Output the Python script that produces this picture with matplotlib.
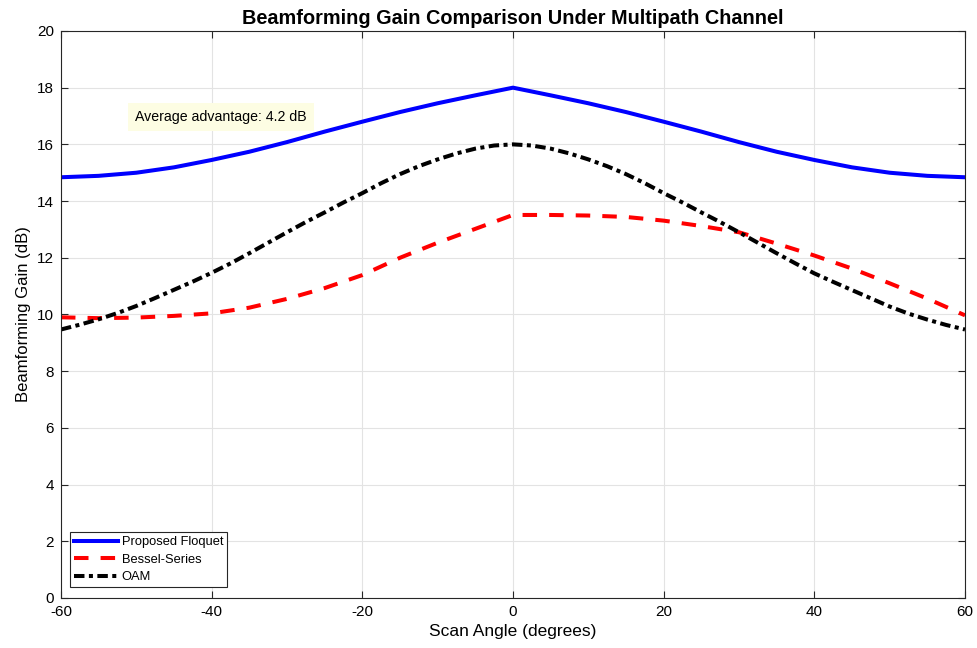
import numpy as np
import matplotlib
matplotlib.use("Agg")
import matplotlib.pyplot as plt

# ---------- Dados (ganho em dB por ângulo de varredura) ----------
angulos = [-60, -55, -50, -45, -40, -35, -30, -25, -20, -15, -10, -5, 0,
           5, 10, 15, 20, 25, 30, 35, 40, 45, 50, 55, 60]

floquet = [14.84, 14.89, 15.0, 15.19, 15.45, 15.74, 16.08, 16.45, 16.8, 17.14, 17.45, 17.73, 18.0,
           17.73, 17.45, 17.14, 16.8, 16.45, 16.08, 15.74, 15.45, 15.19, 15.0, 14.89, 14.84]

bessel = [9.9, 9.87, 9.89, 9.95, 10.04, 10.24, 10.55, 10.93, 11.39, 12.0, 12.53, 13.02, 13.51,
          13.51, 13.49, 13.44, 13.31, 13.12, 12.9, 12.5, 12.08, 11.62, 11.1, 10.56, 9.97]

# OAM com passo de 2,5 graus (curva mais arredondada no pico)
angulos_oam = [-60, -57.5, -55, -52.5, -50, -47.5, -45, -42.5, -40, -37.5, -35, -32.5, -30,
               -27.5, -25, -22.5, -20, -17.5, -15, -12.5, -10, -7.5, -5, -2.5, 0,
               2.5, 5, 7.5, 10, 12.5, 15, 17.5, 20, 22.5, 25, 27.5, 30,
               32.5, 35, 37.5, 40, 42.5, 45, 47.5, 50, 52.5, 55, 57.5, 60]
oam = [9.47, 9.64, 9.83, 10.05, 10.3, 10.58, 10.87, 11.16, 11.47, 11.8, 12.16, 12.53, 12.9,
       13.26, 13.6, 13.95, 14.28, 14.63, 14.95, 15.23, 15.47, 15.68, 15.85, 15.96, 16.0,
       15.96, 15.85, 15.68, 15.47, 15.23, 14.95, 14.63, 14.28, 13.95, 13.6, 13.26, 12.9,
       12.53, 12.16, 11.8, 11.45, 11.15, 10.86, 10.57, 10.28, 10.03, 9.82, 9.63, 9.47]

nomes = ["Proposed Floquet", "Bessel-Series", "OAM"]
texto_vantagem = "Average advantage: 4.2 dB"

# ---------- Estilo ----------
plt.rcParams["font.family"] = ["Liberation Sans", "DejaVu Sans"]
plt.rcParams["axes.unicode_minus"] = False

fig = plt.figure(figsize=(9.77, 6.48), dpi=100)
ax = fig.add_axes([0.0624, 0.0772, 0.9253, 0.875])

ax.plot(angulos, floquet, color="#0000ff", lw=2.9, label=nomes[0], solid_joinstyle="round")
ax.plot(angulos, bessel, color="#ff0000", lw=2.9, label=nomes[1],
        dashes=(3.6, 3.0), dash_capstyle="butt")
ax.plot(angulos_oam, oam, color="black", lw=2.9, label=nomes[2],
        dashes=(2.6, 1.1, 1.0, 1.1), dash_capstyle="butt")

ax.set_xlim(-60, 60)
ax.set_ylim(0, 20)
ax.set_xticks(np.arange(-60, 61, 20))
ax.set_yticks(np.arange(0, 21, 2))

ax.grid(True, color="#e3e3e3", lw=0.8)
ax.set_axisbelow(True)
for s in ax.spines.values():
    s.set_color("#262626")
    s.set_linewidth(0.8)
ax.tick_params(direction="in", length=5, width=0.8, color="#262626",
               top=True, right=True, labelsize=11, labelcolor="black", pad=5)

ax.set_xlabel("Scan Angle (degrees)", fontsize=12.5)
ax.set_ylabel("Beamforming Gain (dB)", fontsize=12)
ax.set_title("Beamforming Gain Comparison Under Multipath Channel",
             fontsize=14.3, fontweight="bold", pad=5)

ax.text(-50.2, 16.97, texto_vantagem, fontsize=10.2, va="center", ha="left",
        bbox=dict(boxstyle="square,pad=0.5", facecolor="#fdfde3", edgecolor="none"))

leg = ax.legend(loc="lower left", bbox_to_anchor=(0.01, 0.019), fontsize=9.3,
                handlelength=3.4, handletextpad=0.3, borderpad=0.3, labelspacing=0.42,
                fancybox=False, framealpha=1, edgecolor="#262626", borderaxespad=0)
leg.get_frame().set_linewidth(0.8)

fig.savefig("out.png", dpi=100)
